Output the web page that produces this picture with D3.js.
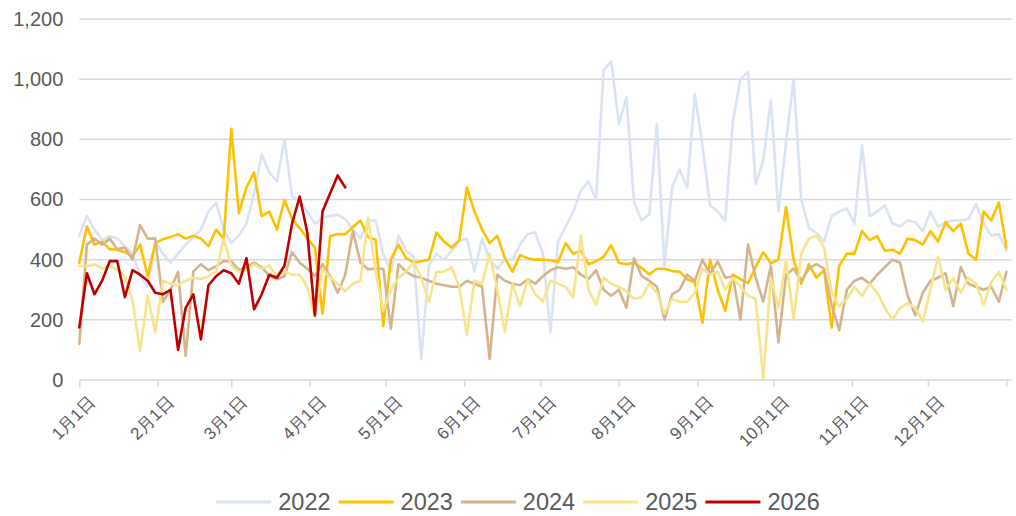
<!DOCTYPE html>
<html>
<head>
<meta charset="utf-8">
<script src="https://cdn.jsdelivr.net/npm/d3@7/dist/d3.min.js"></script>
<style>
  html, body { margin: 0; padding: 0; background: #fff; }
  svg { display: block; font-family: "Liberation Sans", Arial, "Noto Sans CJK SC", sans-serif; }
</style>
</head>
<body>
<svg id="chart" width="1016" height="516"></svg>
<script>
// MARK: Data (one value every 3 days, starting 1月1日)

const STEP_DAYS = 3
const years     = ['2022', '2023', '2024', '2025', '2026']
const colors    = ['#dae3f3', '#ffc000', '#d5b48d', '#f7e48c', '#c00000']
const yTicks    = [0, 200, 400, 600, 800, 1000, 1200]

const values2022 = [
  480, 545, 500, 465, 478, 470, 445, 420, 350, 310,
  460, 420, 390, 420, 450, 475, 500, 560, 590, 500,
  455, 480, 520, 620, 750, 690, 660, 800, 610, 595,
  560, 520, 540, 545, 550, 535, 500, 470, 530, 530,
  420, 360, 480, 430, 410, 70, 380, 420, 400, 430,
  460, 470, 360, 470, 400, 370, 400, 400, 450, 485,
  490, 420, 160, 460, 510, 560, 630, 660, 600, 1030,
  1060, 850, 940, 590, 530, 550, 850, 380, 640, 700,
  640, 950, 780, 580, 560, 530, 860, 1000, 1025, 650,
  730, 930, 560, 790, 1000, 600, 505, 490, 460, 545,
  560, 570, 520, 780, 545, 560, 580, 520, 510, 530,
  525, 495, 560, 510, 525, 530, 530, 535, 585, 520,
  480, 485, 430
]

const values2023 = [
  390, 510, 450, 460, 435, 433, 425, 411, 450, 345,
  455, 468, 475, 485, 470, 480, 470, 445, 500, 470,
  835, 555, 640, 690, 545, 560, 500, 598, 535, 505,
  470, 440, 220, 478, 485, 485, 508, 530, 475, 466,
  180, 400, 450, 405, 390, 395, 400, 490, 460, 440,
  465, 640, 560, 500, 455, 480, 405, 360, 415, 405,
  400, 400, 398, 392, 455, 420, 430, 385, 395, 410,
  448, 390, 385, 390, 372, 352, 370, 370, 362, 360,
  335, 325, 190, 400, 300, 230, 350, 335, 322, 375,
  425, 388, 400, 575, 400, 320, 385, 340, 365, 175,
  380, 420, 420, 495, 465, 478, 430, 433, 420, 470,
  465, 450, 495, 460, 525, 495, 520, 420, 400, 560,
  530, 590, 440
]

const values2024 = [
  120, 450, 470, 450, 470, 435, 440, 400, 515, 470,
  470, 260, 300, 360, 80, 360, 385, 365, 378, 395,
  395, 365, 375, 390, 375, 345, 335, 345, 425, 390,
  370, 345, 385, 345, 290, 350, 495, 390, 368, 370,
  370, 170, 385, 360, 345, 340, 330, 320, 315, 310,
  310, 330, 320, 310, 70, 350, 330, 320, 315, 335,
  320, 345, 365, 375, 370, 375, 350, 335, 365, 300,
  280, 300, 240, 405, 345, 330, 310, 200, 285, 300,
  350, 330, 400, 350, 395, 340, 345, 200, 450, 340,
  260, 380, 125, 350, 370, 330, 370, 385, 370, 250,
  165, 300, 330, 340, 320, 350, 375, 400, 390, 280,
  215, 290, 330, 340, 355, 245, 375, 320, 310, 300,
  310, 260, 360
]

const values2025 = [
  380, 378, 385, 370, 378, 367, 345, 265, 95, 280,
  160, 330, 320, 315, 330, 340, 335, 345, 360, 470,
  380, 360, 365, 385, 370, 380, 345, 360, 350, 350,
  310, 210, 370, 340, 320, 295, 320, 330, 540, 360,
  230, 300, 340, 360, 390, 340, 260, 360, 360, 375,
  310, 150, 330, 320, 420, 300, 160, 320, 245, 335,
  285, 260, 330, 320, 310, 275, 480, 300, 250, 340,
  320, 310, 295, 270, 275, 320, 290, 220, 270, 260,
  260, 290, 370, 350, 360, 300, 340, 310, 280, 270,
  5, 340, 240, 400, 200, 420, 470, 480, 440, 290,
  245, 270, 310, 280, 320, 290, 240, 200, 240, 255,
  240, 195, 300, 410, 300, 340, 290, 340, 320, 250,
  325, 360, 300
]

const values2026 = [
  175, 355, 285, 330, 395, 395, 275, 365, 350, 330,
  290, 285, 300, 100, 240, 285, 135, 315, 345, 365,
  355, 320, 405, 235, 285, 350, 340, 380, 520, 610,
  490, 215, 560, 620, 680, 640
]

const seriesValues = [values2022, values2023, values2024, values2025, values2026]

// MARK: Layout

const PLOT_LEFT   = 79.3
const PLOT_RIGHT  = 1011.5
const PLOT_TOP    = 19
const PLOT_BOTTOM = 380
const TEXT_COLOR  = '#595959'
const GRID_COLOR  = '#d9d9d9'

const startDate = new Date(2024, 0, 1)
const endDate   = new Date(2025, 0, 3)
const dates     = d3.range(values2022.length).map((i) => d3.timeDay.offset(startDate, i * STEP_DAYS))

const svg = d3.select('#chart')

const x = d3.scaleTime()
  .domain([startDate, endDate])
  .range([PLOT_LEFT, PLOT_RIGHT])

const y = d3.scaleLinear()
  .domain([0, 1200])
  .range([PLOT_BOTTOM, PLOT_TOP])

// Horizontal grid lines (the 0 line doubles as the x axis line)
svg.append('g').attr('class', 'grid')
  .selectAll('line')
  .data(yTicks).enter()
  .append('line')
    .attr('x1', PLOT_LEFT)
    .attr('x2', PLOT_RIGHT)
    .attr('y1', (d) => y(d))
    .attr('y2', (d) => y(d))
    .attr('stroke', GRID_COLOR)
    .attr('stroke-width', 1.5)

// Y axis labels
const yAxis = svg.append('g')
  .attr('transform', `translate(${PLOT_LEFT - 16},0)`)
  .call(d3.axisLeft(y).tickValues(yTicks).tickFormat(d3.format(',')).tickSize(0))
yAxis.select('.domain').remove()
yAxis.selectAll('text')
  .attr('fill', TEXT_COLOR)
  .attr('font-size', 20)
  .attr('x', 0)

// X axis ticks and rotated month labels
const monthTicks = d3.timeMonth.range(startDate, d3.timeDay.offset(new Date(2025, 0, 1), 1))
const xAxis = svg.append('g')
  .attr('transform', `translate(0,${PLOT_BOTTOM})`)
  .call(d3.axisBottom(x)
    .tickValues(monthTicks)
    .tickSize(7)
    .tickFormat((d) => d.getFullYear() === 2024 ? `${d.getMonth() + 1}月${d.getDate()}日` : ''))
xAxis.select('.domain').remove()
xAxis.selectAll('.tick line')
  .attr('stroke', GRID_COLOR)
  .attr('stroke-width', 1.5)
xAxis.selectAll('.tick text')
  .attr('fill', TEXT_COLOR)
  .attr('font-size', 17)
  .attr('text-anchor', 'end')
  .attr('dy', '0.35em')
  .attr('transform', 'translate(5,12) rotate(-45)')

// Series lines (2026 last so it sits on top)
const line = d3.line()
  .x((d, i) => x(dates[i]))
  .y((d) => y(d))

svg.append('g').attr('class', 'series')
  .selectAll('path')
  .data(seriesValues).enter()
  .append('path')
    .attr('d', (values) => line(values))
    .attr('fill', 'none')
    .attr('stroke', (values, i) => colors[i])
    .attr('stroke-width', 2.6)
    .attr('stroke-linejoin', 'round')
    .attr('stroke-linecap', 'round')

// Legend, centred under the chart
const LEGEND_Y        = 502
const LEGEND_LINE_LEN = 55
const LEGEND_GAP      = 7
const LEGEND_ITEM_GAP = 8

const legend = svg.append('g').attr('class', 'legend')
const items = legend.selectAll('g')
  .data(years).enter()
  .append('g')
items.append('line')
  .attr('x1', 0)
  .attr('x2', LEGEND_LINE_LEN)
  .attr('y1', 0)
  .attr('y2', 0)
  .attr('stroke', (d, i) => colors[i])
  .attr('stroke-width', 3)
items.append('text')
  .attr('x', LEGEND_LINE_LEN + LEGEND_GAP)
  .attr('dy', '0.35em')
  .attr('font-size', 23.5)
  .attr('fill', TEXT_COLOR)
  .text((d) => d)

const widths = []
items.each(function () {
  widths.push(LEGEND_LINE_LEN + LEGEND_GAP + this.querySelector('text').getComputedTextLength())
})
const total = d3.sum(widths) + LEGEND_ITEM_GAP * (widths.length - 1)
let offset = 518 - total / 2
items.attr('transform', (d, i) => {
  const tx = offset
  offset += widths[i] + LEGEND_ITEM_GAP
  return `translate(${tx},${LEGEND_Y})`
})
</script>
</body>
</html>
